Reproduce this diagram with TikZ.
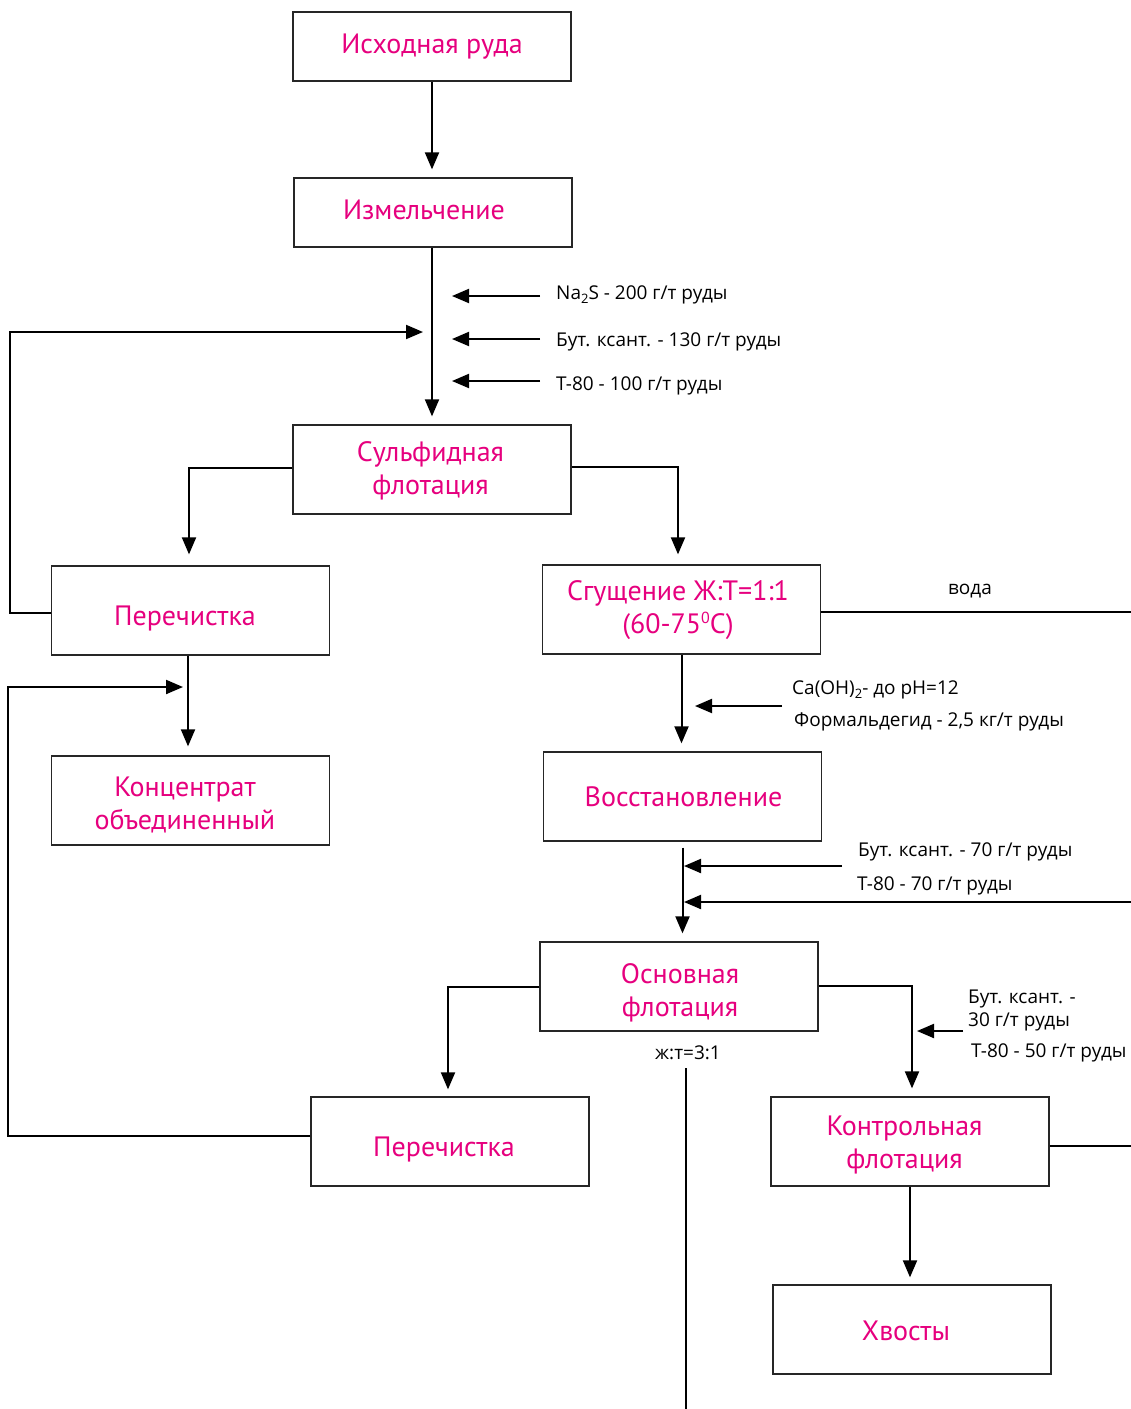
\documentclass[tikz,border=0pt]{standalone}
\usepackage{fontspec}
\setmainfont{PT Sans}
\newfontfamily\labfont{Open Sans}
\usetikzlibrary{arrows.meta}
\definecolor{mag}{RGB}{230,0,126}
% #1 horizontal shift, #2 raise, #3 text
\newcommand{\tl}[3]{\raisebox{#2}[19.6pt][0pt]{\kern#1\relax#3\kern-#1\relax}}
\newcommand{\lowtwo}{\raisebox{-0.45ex}{\fontsize{13}{13}\selectfont 2}}
\newcommand{\hizero}{\raisebox{0.75ex}{\fontsize{16}{16}\selectfont 0}}
\begin{document}
\begin{tikzpicture}[x=1pt,y=-1pt,
  box/.style={draw=black!85, line width=1.3pt, minimum width=278pt, inner sep=0pt,
    text=mag, font=\fontsize{28}{33}\selectfont, align=center},
  hs/.style={minimum height=69pt},
  hl/.style={minimum height=89pt},
  conn/.style={line width=2pt, draw=black},
  arr/.style={conn, -{Triangle[length=17pt,width=14pt]}},
  lab/.style={anchor=west, font=\labfont\fontsize{19}{21}\selectfont, inner sep=0pt,
    text height=13.6pt, text depth=0pt},
  clab/.style={lab, anchor=center}]
\useasboundingbox (0,0) rectangle (1131,1409);

% boxes
\node[box,hs] (ore)    at (432,46.5)   {\tl{0pt}{3pt}{Исходная руда}};
\node[box,hs] (grind)  at (433,212.5)  {\tl{-9pt}{2.8pt}{Измельчение}};
\node[box,hl] (sulf)   at (432,469.5)  {\tl{-1.5pt}{1pt}{Сульфидная}\\\tl{-1.5pt}{1pt}{флотация}};
\node[box,hl] (clean1) at (190.5,610.5){\tl{-5.5pt}{-5.5pt}{Перечистка}};
\node[box,hl] (thick)  at (681.5,609.5){\tl{-3.5pt}{2pt}{Сгущение Ж:Т=1:1}\\\tl{-3.5pt}{2pt}{(60-75\hizero С)}};
\node[box,hl] (conc)   at (190.5,800.5){\tl{-5.5pt}{-2.5pt}{Концентрат}\\\tl{-5.5pt}{-2.5pt}{объединенный}};
\node[box,hl] (red)    at (682.5,796.5){\tl{1pt}{0pt}{Восстановление}};
\node[box,hl] (main)   at (679,986.5)  {\tl{1pt}{-4pt}{Основная}\\\tl{1pt}{-4pt}{флотация}};
\node[box,hl] (clean2) at (450,1141.5) {\tl{-6pt}{-5.5pt}{Перечистка}};
\node[box,hl] (ctrl)   at (910,1141.5) {\tl{-5.5pt}{-1pt}{Контрольная}\\\tl{-5.5pt}{-1pt}{флотация}};
\node[box,hl] (tail)   at (912,1329.5) {\tl{-6pt}{-1.5pt}{Хвосты}};

% labels
\node[lab] (l1) at (556,292.5) {Na\lowtwo S - 200 г/т руды};
\node[lab] (l2) at (556,340) {Бут. ксант. - 130 г/т руды};
\node[lab] (l3) at (556,383.7) {Т-80 - 100 г/т руды};
\node[clab] (water) at (970,588) {вода};
\node[lab] (l4) at (792,687.3) {Ca(OH)\lowtwo- до pH=12};
\node[lab] (l5) at (794,719.5) {Формальдегид - 2,5 кг/т руды};
\node[lab] (l6) at (858,850) {Бут. ксант. - 70 г/т руды};
\node[lab] (l7) at (857,884) {Т-80 - 70 г/т руды};
\node[lab] (l8) at (968,996.3) {Бут. ксант. -};
\node[lab] (l9) at (968,1020) {30 г/т руды};
\node[lab] (l10) at (971,1050.5) {Т-80 - 50 г/т руды};
\node[clab] (jt) at (688,1053) {ж:т=3:1};

% coordinates
\coordinate (r1a) at (540,296); \coordinate (r1b) at (452,296);
\coordinate (r2a) at (540,339); \coordinate (r2b) at (452,339);
\coordinate (r3a) at (540,381); \coordinate (r3b) at (452,381);
\coordinate (fb1) at (423,332);
\coordinate (fb2) at (183,687);
\coordinate (wend) at (1131,612);
\coordinate (r4a) at (782,706); \coordinate (r4b) at (695,706);
\coordinate (r5a) at (842,866); \coordinate (r5b) at (684,866);
\coordinate (r6a) at (1131,902); \coordinate (r6b) at (684,902);
\coordinate (r7a) at (963,1031); \coordinate (r7b) at (917,1031);
\coordinate (cend) at (1131,1146);
\coordinate (ja) at (686,1068); \coordinate (jb) at (686,1409);

% connectors
\draw[arr, shorten >=8pt] (ore.south) -- (ore.south |- grind.north);
\draw[arr, shorten >=8pt] ([xshift=-1pt]grind.south) -- ([xshift=-1pt]grind.south |- sulf.north);
\draw[arr] (r1a) -- (r1b);
\draw[arr] (r2a) -- (r2b);
\draw[arr] (r3a) -- (r3b);
\draw[arr] ([yshift=-2.5pt]clean1.west) -- ++(-41,0) |- (fb1);
\draw[arr, shorten >=11pt] ([yshift=1.5pt]sulf.west) -| ([xshift=-1.5pt]clean1.north);
\draw[arr, shorten >=10pt] ([yshift=2.5pt]sulf.east) -| ([xshift=-3.5pt]thick.north);
\draw[conn] (thick.east |- wend) -- (wend);
\draw[arr, shorten >=9pt] ([xshift=-2.5pt]clean1.south) -- ([xshift=-2.5pt]clean1.south |- conc.north);
\draw[arr] ([yshift=5.5pt]clean2.west) -- ++(-302,0) |- (fb2);
\draw[arr, shorten >=8pt] (thick.south) -- (thick.south |- red.north);
\draw[arr] (r4a) -- (r4b);
\draw[arr, shorten <=6pt, shorten >=8pt] (red.south) -- (red.south |- main.north);
\draw[arr] (r5a) -- (r5b);
\draw[arr] (r6a) -- (r6b);
\draw[arr, shorten >=7pt] (main.west) -| ([xshift=-2pt]clean2.north);
\draw[arr, shorten >=8pt] ([yshift=1pt]main.east) -| ([xshift=2pt]ctrl.north);
\draw[arr] (r7a) -- (r7b);
\draw[conn] (ctrl.east |- cend) -- (cend);
\draw[arr, shorten >=7pt] (ctrl.south) -- (ctrl.south |- tail.north);
\draw[conn] (ja) -- (jb);
\end{tikzpicture}
\end{document}
